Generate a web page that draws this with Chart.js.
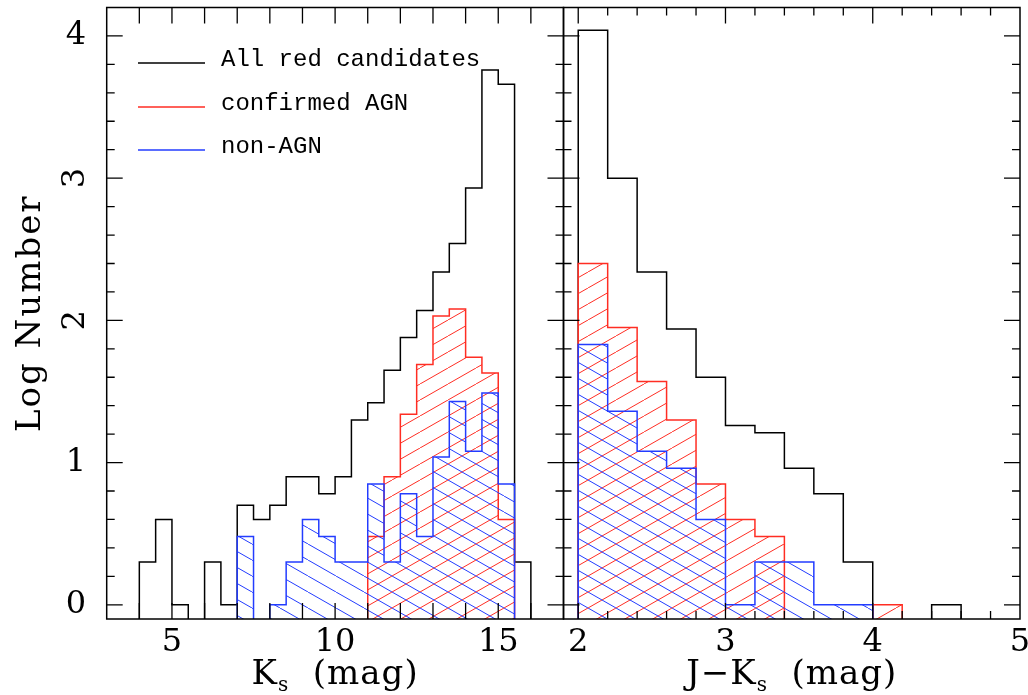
<!DOCTYPE html>
<html>
<head>
<meta charset="utf-8">
<title>Log Number histograms</title>
<script src="https://cdn.jsdelivr.net/npm/chart.js@4.4.0/dist/chart.umd.min.js"></script>
<style>
  html, body { margin: 0; padding: 0; background: #fff; }
  #wrap { position: relative; width: 1028px; height: 695px; }
  #wrap canvas { position: absolute; left: 0; top: 0; }
</style>
</head>
<body>
<div id="wrap">
  <canvas id="k-panel" width="1028" height="695"></canvas>
  <canvas id="jk-panel" width="1028" height="695"></canvas>
</div>
<script>
// Ks histogram: 0.5 mag bins starting at Ks = 4.0 (log10 of counts, null = empty bin)
const kBinStart = 4.0;
const kBinWidth = 0.5;
const kAll = [0.30, 0.60, 0, null, 0.30, 0, 0.70, 0.60, 0.70, 0.90, 0.90, 0.78,
              0.90, 1.30, 1.42, 1.65, 1.88, 2.07, 2.34, 2.54, 2.93, 3.76, 3.66, 0.30];
const kAgn = [null, null, null, null, null, null, null, null, null, null, null, null,
              null, null, 0.48, 0.90, 1.34, 1.69, 2.03, 2.08, 1.74, 1.63, 0.60, null];
const kNonAgn = [null, null, null, null, null, null, 0.48, null, 0, 0.30, 0.60, 0.48,
                 0.30, 0.30, 0.85, 0.30, 0.78, 0.48, 1.04, 1.43, 1.08, 1.49, 0.85, null];

// J-Ks histogram: 0.2 mag bins starting at J-Ks = 2.0
const jkBinStart = 2.0;
const jkBinWidth = 0.2;
const jkAll = [4.04, 3.00, 2.34, 1.94, 1.60, 1.26, 1.21, 0.96, 0.78, 0.30, null, null, 0];
const jkAgn = [2.40, 1.95, 1.57, 1.30, 0.85, 0.60, 0.48, null, null, null, 0, null, null];
const jkNonAgn = [1.83, 1.36, 1.08, 0.96, 0.60, 0, 0.30, 0.30, 0, 0, null, null, null];

// axes
const kRange = [3, 17];
const jkRange = [1.9, 5.0];
const logRange = [-0.1, 4.2];
const kTicks = [5, 10, 15];
const jkTicks = [2, 3, 4, 5];
const logTicks = [0, 1, 2, 3, 4];
const sidewaysLogTicks = [2, 3]; // these two labels are written along the axis in the original

const legendLabels = ['All red candidates', 'confirmed AGN', 'non-AGN'];

const black = '#000';
const red = 'rgb(255, 45, 35)';
const blue = 'rgb(35, 60, 255)';

const serif = '"DejaVu Serif", "Liberation Serif", serif';

// turn a list of bin heights into the outline of a step histogram
function histPoints(start, width, values) {
  const floor = -1;
  const pts = [{ x: start, y: floor }];
  values.forEach((v, i) => {
    const y = v === null ? floor : v;
    pts.push({ x: start + i * width, y: y });
    pts.push({ x: start + (i + 1) * width, y: y });
  });
  pts.push({ x: start + values.length * width, y: floor });
  return pts;
}

// diagonal hatch fill; dir > 0 is "/" and dir < 0 is "\"
function hatch(ctx, color, dir) {
  const w = 28, h = 16;
  const tile = document.createElement('canvas');
  tile.width = w;
  tile.height = h;
  const g = tile.getContext('2d');
  g.strokeStyle = color;
  g.lineWidth = 1;
  [-w, 0, w].forEach(dx => {
    g.beginPath();
    if (dir > 0) {
      g.moveTo(dx, h);
      g.lineTo(dx + w, 0);
    } else {
      g.moveTo(dx, 0);
      g.lineTo(dx + w, h);
    }
    g.stroke();
  });
  return ctx.createPattern(tile, 'repeat');
}

// frame with inward ticks on all four sides
const framePlugin = {
  id: 'frame',
  afterDraw(chart, args, opts) {
    const { ctx, chartArea: a } = chart;
    const x = chart.scales.x, y = chart.scales.y;
    ctx.save();
    ctx.strokeStyle = black;
    ctx.lineWidth = 1.5;
    ctx.strokeRect(a.left, a.top, a.right - a.left, a.bottom - a.top);

    ctx.lineWidth = 1.3;
    ctx.beginPath();
    const isMajor = (v, major) => Math.abs(v / major - Math.round(v / major)) < 1e-6;
    for (let i = Math.ceil(x.min / opts.xMinor - 1e-6); i * opts.xMinor <= x.max + 1e-6; i++) {
      const v = i * opts.xMinor;
      const px = x.getPixelForValue(v);
      if (px - a.left < 1 || a.right - px < 1) continue;
      const len = isMajor(v, opts.xMajor) ? 16 : 8;
      ctx.moveTo(px, a.bottom); ctx.lineTo(px, a.bottom - len);
      ctx.moveTo(px, a.top); ctx.lineTo(px, a.top + len);
    }
    for (let i = Math.ceil(y.min / opts.yMinor - 1e-6); i * opts.yMinor <= y.max + 1e-6; i++) {
      const v = i * opts.yMinor;
      const py = y.getPixelForValue(v);
      if (py - a.top < 1 || a.bottom - py < 1) continue;
      const len = isMajor(v, opts.yMajor) ? 16 : 8;
      ctx.moveTo(a.left, py); ctx.lineTo(a.left + len, py);
      ctx.moveTo(a.right, py); ctx.lineTo(a.right - len, py);
    }
    ctx.stroke();
    ctx.restore();
  }
};

// Ks / J-Ks axis title with subscript s
function drawXTitle(ctx, cx, baseline, pre, sub, post) {
  ctx.save();
  ctx.fillStyle = black;
  ctx.textAlign = 'left';
  ctx.textBaseline = 'alphabetic';
  ctx.letterSpacing = '1px';
  const big = '34px ' + serif, small = '20px ' + serif;
  ctx.font = big;
  const w1 = ctx.measureText(pre).width, w3 = ctx.measureText(post).width;
  ctx.font = small;
  const w2 = ctx.measureText(sub).width;
  let x0 = cx - (w1 + w2 + w3) / 2;
  ctx.font = big;
  ctx.fillText(pre, x0, baseline);
  x0 += w1;
  ctx.font = small;
  ctx.fillText(sub, x0, baseline + 7);
  x0 += w2;
  ctx.font = big;
  ctx.fillText(post, x0, baseline);
  ctx.restore();
}

const titlePlugin = {
  id: 'titles',
  afterDraw(chart, args, opts) {
    const { ctx, chartArea: a } = chart;
    drawXTitle(ctx, (a.left + a.right) / 2, 684, opts.pre, 's', '  (mag)');
    if (!opts.withY) return;

    const y = chart.scales.y;
    ctx.save();
    ctx.fillStyle = black;
    ctx.font = '32px ' + serif;
    ctx.textAlign = 'center';
    ctx.textBaseline = 'middle';
    logTicks.forEach(v => {
      ctx.save();
      ctx.translate(76, y.getPixelForValue(v));
      if (sidewaysLogTicks.includes(v)) ctx.rotate(-Math.PI / 2);
      ctx.fillText(String(v), 0, 0);
      ctx.restore();
    });

    // y title
    ctx.save();
    ctx.translate(40, (a.top + a.bottom) / 2);
    ctx.rotate(-Math.PI / 2);
    ctx.font = '34px ' + serif;
    ctx.letterSpacing = '2px';
    ctx.textBaseline = 'alphabetic';
    ctx.fillText('Log Number', 0, 0);
    ctx.restore();

    // legend
    const colors = [black, red, blue];
    const rows = [63, 107, 150];
    ctx.font = '24px "Liberation Mono", monospace';
    ctx.textAlign = 'left';
    ctx.textBaseline = 'alphabetic';
    ctx.lineWidth = 1.5;
    legendLabels.forEach((label, i) => {
      ctx.strokeStyle = colors[i];
      ctx.beginPath();
      ctx.moveTo(138, rows[i]);
      ctx.lineTo(205, rows[i]);
      ctx.stroke();
      ctx.fillText(label, 221, rows[i] + 3);
    });
    ctx.restore();
  }
};

function makePanel(canvasId, cfg) {
  const canvas = document.getElementById(canvasId);
  const ctx = canvas.getContext('2d');
  const line = { pointRadius: 0, borderWidth: 1.5, tension: 0 };
  return new Chart(ctx, {
    type: 'line',
    data: {
      datasets: [
        Object.assign({ label: legendLabels[0], data: histPoints(cfg.start, cfg.width, cfg.all),
          borderColor: black, fill: false, order: 3 }, line),
        Object.assign({ label: legendLabels[1], data: histPoints(cfg.start, cfg.width, cfg.agn),
          borderColor: red, backgroundColor: hatch(ctx, red, 1), fill: 'start', order: 2 }, line),
        Object.assign({ label: legendLabels[2], data: histPoints(cfg.start, cfg.width, cfg.non),
          borderColor: blue, backgroundColor: hatch(ctx, blue, -1), fill: 'start', order: 1 }, line)
      ]
    },
    options: {
      responsive: false,
      animation: false,
      events: [],
      layout: { padding: cfg.padding },
      scales: {
        x: {
          type: 'linear',
          min: cfg.range[0],
          max: cfg.range[1],
          grid: { display: false, drawTicks: false },
          border: { display: false },
          afterBuildTicks: s => { s.ticks = cfg.ticks.map(v => ({ value: v })); },
          afterFit: s => { s.height = 76; s.paddingLeft = 0; s.paddingRight = 0; },
          ticks: {
            autoSkip: false,
            maxRotation: 0,
            padding: 4,
            color: black,
            font: { family: serif, size: 32 }
          }
        },
        y: {
          type: 'linear',
          display: false,
          min: logRange[0],
          max: logRange[1]
        }
      },
      plugins: {
        legend: { display: false },
        tooltip: { enabled: false },
        frame: { xMinor: cfg.xMinor, xMajor: 1, yMinor: 0.2, yMajor: 1 },
        titles: { pre: cfg.title, withY: cfg.withY }
      }
    },
    plugins: [framePlugin, titlePlugin]
  });
}

makePanel('k-panel', {
  start: kBinStart, width: kBinWidth, all: kAll, agn: kAgn, non: kNonAgn,
  range: kRange, ticks: kTicks, xMinor: 1, title: 'K', withY: true,
  padding: { left: 106.7, top: 7.5, right: 1028 - 563.5, bottom: 0 }
});
makePanel('jk-panel', {
  start: jkBinStart, width: jkBinWidth, all: jkAll, agn: jkAgn, non: jkNonAgn,
  range: jkRange, ticks: jkTicks, xMinor: 0.2, title: 'J\u2212K', withY: false,
  padding: { left: 563.5, top: 7.5, right: 8, bottom: 0 }
});
</script>
</body>
</html>
